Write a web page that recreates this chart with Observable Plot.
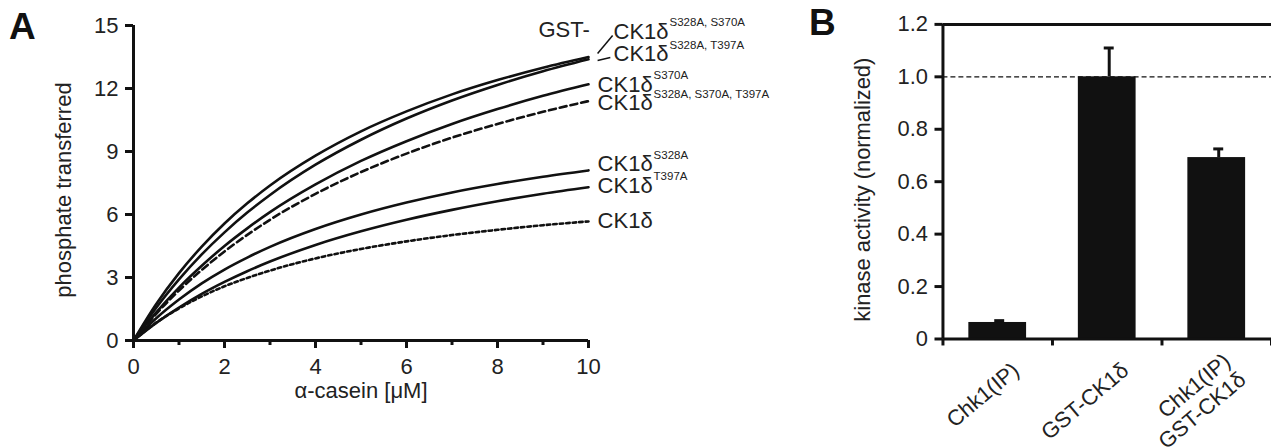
<!DOCTYPE html>
<html><head><meta charset="utf-8">
<script src="https://cdn.jsdelivr.net/npm/d3@7"></script>
<script src="https://cdn.jsdelivr.net/npm/@observablehq/plot@0.6"></script>
<style>
html,body{margin:0;padding:0;background:#fff;overflow:hidden;width:1271px;height:448px;}
#wrap{position:relative;width:1271px;height:448px;overflow:hidden;font-family:"Liberation Sans",Arial,sans-serif;}
#a,#b{position:absolute;top:0;}
#a{left:0px} #b{left:820px}
.panel{position:absolute;font-weight:bold;font-size:37px;line-height:1;color:#111;font-family:"Liberation Sans",Arial,sans-serif;}
</style></head><body>
<div id="wrap">
  <div id="a"></div><div id="b"></div>
  <div class="panel" style="left:9px;top:8px">A</div>
  <div class="panel" style="left:809px;top:4px">B</div>
</div>
<script>
// ---------- Panel A data ----------
const casein = [0, 0.5, 1, 1.5, 2, 2.5, 3, 4, 5, 6, 7, 8, 9, 10];
const ck1dS328AS370A = [0, 1.74, 3.21, 4.47, 5.57, 6.53, 7.38, 8.80, 9.96, 10.91, 11.72, 12.40, 12.99, 13.50];
const ck1dS328AT397A = [0, 1.56, 2.91, 4.10, 5.15, 6.09, 6.93, 8.37, 9.56, 10.57, 11.43, 12.17, 12.82, 13.39];
const ck1dS370A = [0, 1.34, 2.52, 3.56, 4.50, 5.34, 6.11, 7.43, 8.55, 9.49, 10.31, 11.02, 11.65, 12.20];
const ck1dTriple = [0, 1.27, 2.38, 3.36, 4.24, 5.03, 5.75, 6.98, 8.02, 8.90, 9.66, 10.31, 10.89, 11.40];
const ck1dS328A = [0, 1.06, 1.95, 2.72, 3.38, 3.95, 4.46, 5.31, 6.00, 6.57, 7.05, 7.45, 7.80, 8.10];
const ck1dT397A = [0, 0.84, 1.57, 2.22, 2.79, 3.30, 3.76, 4.55, 5.20, 5.75, 6.22, 6.63, 6.99, 7.30];
const ck1dWT = [0, 0.85, 1.53, 2.10, 2.58, 2.98, 3.33, 3.91, 4.36, 4.72, 5.02, 5.27, 5.49, 5.67];

const seriesNames = ["S328A, S370A", "S328A, T397A", "S370A", "S328A, S370A, T397A", "S328A", "T397A", ""];
const seriesValues = [ck1dS328AS370A, ck1dS328AT397A, ck1dS370A, ck1dTriple, ck1dS328A, ck1dT397A, ck1dWT];

// end-label annotations (x in µM, y in phosphate units)
const labelMain = ["CK1δ", "CK1δ", "CK1δ", "CK1δ", "CK1δ", "CK1δ", "CK1δ"];
const labelX = [10.55, 10.55, 10.2, 10.2, 10.2, 10.2, 10.2];
const labelY = [14.71, 13.64, 12.19, 11.31, 8.40, 7.38, 5.69];
const prefixText = ["GST-"];
const prefixX = [8.9];
const prefixY = [14.81];
const connX1 = [10.2, 10.2];
const connY1 = [13.67, 13.33];
const connX2 = [10.53, 10.48];
const connY2 = [14.52, 13.48];

// ---------- Panel B data ----------
const categories = ["Chk1(IP)", "GST-CK1δ", "Chk1(IP)\nGST-CK1δ"];
const activity = [0.063, 1.0, 0.692];
const activityErr = [0.007, 0.11, 0.033];
const yTicksA = [0, 3, 6, 9, 12, 15];
const xTicksA = [0, 2, 4, 6, 8, 10];
const xMinorA = [1, 3, 5, 7, 9];
const yTicksB = [0, 0.2, 0.4, 0.6, 0.8, 1.0, 1.2];
const referenceLevel = [1.0];

// ---------- styles ----------
const dashFor = {"S328A, S370A, T397A": "7,4", "": "3.5,3"};
const INK = "#111";
const font = "'Liberation Sans', Arial, sans-serif";

// ---------- build tables ----------
const curve = [];
seriesNames.forEach((name, k) => casein.forEach((x, i) => curve.push({series: name, x, y: seriesValues[k][i]})));
const labels = labelMain.map((t, i) => ({main: t, sup: seriesNames[i], x: labelX[i], y: labelY[i]}));
const prefix = prefixText.map((t, i) => ({t, x: prefixX[i], y: prefixY[i]}));
const conns = connX1.map((x, i) => ({x1: x, y1: connY1[i], x2: connX2[i], y2: connY2[i]}));

const solid = curve.filter(d => !(d.series in dashFor));
const lineMarks = [Plot.line(solid, {x: "x", y: "y", z: "series", stroke: INK, strokeWidth: 2.6, curve: "monotone-x"})];
Object.keys(dashFor).forEach(k => {
  lineMarks.push(Plot.line(curve.filter(d => d.series === k), {x: "x", y: "y", stroke: INK, strokeWidth: 2.6, strokeDasharray: dashFor[k], curve: "monotone-x"}));
});

const plotA = Plot.plot({
  width: 820, height: 448,
  marginLeft: 133, marginRight: 232, marginTop: 25, marginBottom: 108,
  style: {fontFamily: font, fontSize: "22px", color: "#222", background: "transparent"},
  x: {domain: [0, 10]},
  y: {domain: [0, 15]},
  marks: [
    ...lineMarks,
    Plot.ruleY([0], {stroke: INK, strokeWidth: 3}),
    Plot.ruleX([0], {stroke: INK, strokeWidth: 3}),
    Plot.axisY({ticks: yTicksA, tickSize: 8, tickPadding: 7, strokeWidth: 3, stroke: INK, fontSize: 22, label: null, tickFormat: d => String(d)}),
    Plot.axisX({ticks: xTicksA, tickSize: 8, tickPadding: 10, strokeWidth: 3, stroke: INK, fontSize: 22, label: null, tickFormat: d => String(d)}),
    Plot.axisX({ticks: xMinorA, tickSize: 5, strokeWidth: 3, stroke: INK, label: null, tickFormat: () => ""}),
    Plot.text(["phosphate transferred"], {frameAnchor: "left", textAnchor: "middle", rotate: -90, dx: -70, dy: 7, fontSize: 22, fill: "#222"}),
    Plot.text(["α-casein [μM]"], {frameAnchor: "bottom", textAnchor: "middle", dy: 57, fontSize: 22, fill: "#222"}),
    Plot.text(labels, {x: "x", y: "y", text: "main", textAnchor: "start", fontSize: 22, fill: "#222"}),
    Plot.text(labels, {x: "x", y: "y", text: "sup", textAnchor: "start", fontSize: 11.5, dx: 56, dy: -9, fill: "#222"}),
    Plot.text(prefix, {x: "x", y: "y", text: "t", textAnchor: "start", fontSize: 22, fill: "#222"}),
    Plot.link(conns, {x1: "x1", y1: "y1", x2: "x2", y2: "y2", stroke: INK, strokeWidth: 1.5})
  ]
});
document.getElementById("a").appendChild(plotA);

const bars = categories.map((c, i) => ({cat: c, i, v: activity[i], e: activityErr[i]}));

const plotB = Plot.plot({
  width: 453, height: 448,
  marginLeft: 123, marginRight: 0, marginTop: 24, marginBottom: 108,
  style: {fontFamily: font, fontSize: "22px", color: "#222", background: "transparent", overflow: "visible"},
  x: {domain: [0, 3]},
  y: {domain: [0, 1.2]},
  marks: [
    Plot.ruleY(referenceLevel, {stroke: INK, strokeWidth: 1.2, strokeDasharray: "5,3"}),
    Plot.rectY(bars, {x1: d => d.i, x2: d => d.i + 1, y: "v", insetLeft: 26, insetRight: 26, fill: INK}),
    Plot.ruleX(bars, {x: d => d.i + 0.5, y1: "v", y2: d => d.v + d.e, stroke: INK, strokeWidth: 3, dx: 2}),
    Plot.ruleY(bars, {y: d => d.v + d.e, x1: d => d.i + 0.5, x2: d => d.i + 0.5, insetLeft: -5, insetRight: -5, stroke: INK, strokeWidth: 3, dx: 2}),
    Plot.ruleY([0], {stroke: INK, strokeWidth: 3}),
    Plot.ruleY([1.2], {stroke: INK, strokeWidth: 3}),
    Plot.ruleX([0], {stroke: INK, strokeWidth: 3}),
    Plot.axisY({ticks: yTicksB, tickSize: 8, tickPadding: 7, strokeWidth: 3, stroke: INK, fontSize: 22, label: null, tickFormat: d => d === 0 ? "0" : d.toFixed(1)}),
    Plot.axisX({ticks: [0, 1, 2, 3], tickSize: 7, strokeWidth: 3, stroke: INK, label: null, tickFormat: () => ""}),
    Plot.text(bars, {x: d => d.i + 0.5, frameAnchor: "bottom", text: "cat", rotate: -40, textAnchor: "end", lineAnchor: "middle", lineHeight: 1.1, dx: 18, dy: 28, fontSize: 22, fill: "#222"}),
    Plot.text(["kinase activity (normalized)"], {frameAnchor: "left", textAnchor: "middle", rotate: -90, dx: -80, dy: 8, fontSize: 22, fill: "#222"})
  ]
});
document.getElementById("b").appendChild(plotB);
</script>
</body></html>
